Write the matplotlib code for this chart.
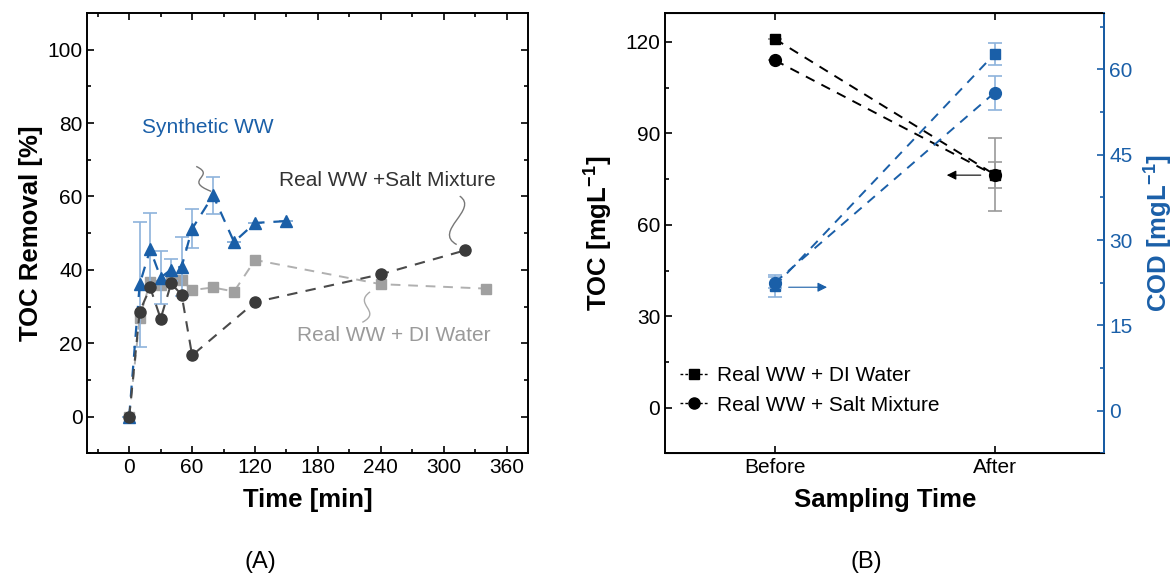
import matplotlib
matplotlib.use("Agg")
import matplotlib.pyplot as plt
from matplotlib.path import Path
from matplotlib.patches import PathPatch
from matplotlib.lines import Line2D

plt.rcParams['font.family'] = ['Liberation Sans', 'DejaVu Sans']
plt.rcParams['mathtext.fontset'] = 'custom'
plt.rcParams['mathtext.rm'] = 'Liberation Sans'
plt.rcParams['mathtext.bf'] = 'Liberation Sans:bold'

BLUE = '#1a5fa8'
LIGHT_BLUE = '#8db3dc'
GREY = '#a0a0a0'
DARK = '#3a3a3a'

# (A) TOC removal over time
t_syn = [0, 10, 20, 30, 40, 50, 60, 80, 100, 120, 150]
syn = [0, 36.1, 45.6, 37.9, 40.1, 40.9, 51.2, 60.3, 47.6, 52.8, 53.3]
syn_err = [0, 17, 10, 7.3, 3, 8, 5.3, 5, 0, 0, 0]

t_di = [0, 10, 20, 30, 40, 50, 60, 80, 100, 120, 240, 340]
di = [0, 27.0, 36.7, 36.0, 37.4, 37.2, 34.5, 35.2, 34.1, 42.7, 36.1, 34.9]

t_salt = [0, 10, 20, 30, 40, 50, 60, 120, 240, 320]
salt = [0, 28.6, 35.2, 26.7, 36.3, 33.2, 16.7, 31.2, 38.8, 45.3]

# (B) TOC and COD before/after
stages = ['Before', 'After']
toc_di = [121, 76.5]
toc_salt = [114, 76.3]
toc_di_err = [0, 12]
toc_salt_err = [0, 4.2]
cod_di = [21.9, 62.7]
cod_salt = [22.5, 55.9]
cod_di_err = [1.9, 2]
cod_salt_err = [1.0, 3]

fig = plt.figure(figsize=(11.76, 5.8), dpi=100)
ax1 = fig.add_axes([0.0742, 0.2184, 0.3745, 0.7591])
ax2 = fig.add_axes([0.5655, 0.2184, 0.3736, 0.7591])


def style_axis(ax):
    for s in ax.spines.values():
        s.set_linewidth(1.4)
    ax.tick_params(which='both', direction='in', labelsize=15, width=1.2)
    ax.tick_params(which='major', length=5)
    ax.tick_params(which='minor', length=3)


# ---- panel A ----
style_axis(ax1)
ax1.plot(t_di, di, ls=(0, (5, 4)), color='#b0b0b0', lw=1.4, marker='s',
         ms=6.5, mfc=GREY, mec=GREY, zorder=2)
ax1.errorbar(t_syn, syn, yerr=syn_err, ls=(0, (5, 4)), color=BLUE, lw=1.6,
             marker='^', ms=9, ecolor=LIGHT_BLUE, elinewidth=1.2, capsize=5,
             capthick=1.2, zorder=3)
ax1.plot(t_salt, salt, ls=(0, (5, 4)), color='#4a4a4a', lw=1.5, marker='o',
         ms=8, mfc=DARK, mec=DARK, zorder=4)

ax1.set_xlim(-40, 380)
ax1.set_ylim(-10, 110)
ax1.set_xticks(range(0, 361, 60))
ax1.set_xticks(range(-30, 380, 30), minor=True)
ax1.set_yticks(range(0, 101, 20))
ax1.set_yticks(range(-10, 110, 10), minor=True)
ax1.tick_params(which='both', top=True, right=True)
ax1.set_xlabel('Time [min]', fontsize=18.5, fontweight='bold', labelpad=8)
ax1.set_ylabel('TOC Removal [%]', fontsize=18.5, fontweight='bold', labelpad=3)

ax1.text(12, 78.8, 'Synthetic WW', color=BLUE, fontsize=15, va='center')
ax1.text(143, 64.4, 'Real WW +Salt Mixture', color='#333333', fontsize=15,
         va='center')
ax1.text(160, 22.2, 'Real WW + DI Water', color='#9a9a9a', fontsize=15,
         va='center')


def squiggle(ax, p0, p1, p2, p3, color):
    path = Path([p0, p1, p2, p3],
                [Path.MOVETO, Path.CURVE4, Path.CURVE4, Path.CURVE4])
    ax.add_patch(PathPatch(path, fc='none', ec=color, lw=1.0, zorder=5))


squiggle(ax1, (63.9, 68.2), (84, 65.5), (50, 64.5), (78.2, 61.4), '#777777')
squiggle(ax1, (315.2, 60.1), (334, 56.5), (289, 50.5), (312.3, 46.9), '#777777')
squiggle(ax1, (229.7, 34.0), (213, 30.6), (242, 28.7), (222.3, 25.7), '#aaaaaa')

fig.text(0.221, 0.02, '(A)', fontsize=17, ha='center')

# ---- panel B ----
style_axis(ax2)
x = [0, 1]
ax2.errorbar(x, toc_di, yerr=toc_di_err, ls=(0, (5, 4)), color='black',
             lw=1.4, marker='s', ms=7.5, ecolor='#999999', elinewidth=1.2,
             capsize=5, capthick=1.2, zorder=3)
ax2.errorbar(x, toc_salt, yerr=toc_salt_err, ls=(0, (5, 4)), color='black',
             lw=1.4, marker='o', ms=8.5, ecolor='#999999', elinewidth=1.2,
             capsize=5, capthick=1.2, zorder=4)
ax2.set_xlim(-0.5, 1.5)
ax2.set_ylim(-13, 129.5)
ax2.set_xticks(x)
ax2.set_xticklabels(stages)
ax2.set_yticks(range(0, 121, 30))
ax2.set_yticks(range(-15, 130, 15), minor=True)
ax2.tick_params(which='both', top=True, right=False)
ax2.set_xlabel('Sampling Time', fontsize=18.5, fontweight='bold', labelpad=8)
ax2.set_ylabel(r'TOC [mgL$^{\mathbf{-1}}$]', fontsize=18.5, fontweight='bold',
               labelpad=8)
ax2.annotate('', xy=(0.77, 76.3), xytext=(0.95, 76.3),
             arrowprops=dict(arrowstyle='-|>', color='black', lw=0.8,
                             mutation_scale=14))

# legend handles without the error bars
handles = [
    Line2D([], [], color='black', ls=(0, (2, 1.5)), lw=1.0, marker='s', ms=7),
    Line2D([], [], color='black', ls=(0, (2, 1.5)), lw=1.0, marker='o', ms=8),
]
ax2.legend(handles, ['Real WW + DI Water', 'Real WW + Salt Mixture'],
           loc='lower left', bbox_to_anchor=(0.0, 0.055), frameon=False,
           fontsize=15, handlelength=1.4, handletextpad=0.4, labelspacing=0.5,
           borderaxespad=0.3)

ax3 = ax2.twinx()
ax3.errorbar(x, cod_di, yerr=cod_di_err, ls=(0, (5, 4)), color=BLUE, lw=1.4,
             marker='s', ms=7.5, ecolor=LIGHT_BLUE, elinewidth=1.2, capsize=5,
             capthick=1.2, zorder=3)
ax3.errorbar(x, cod_salt, yerr=cod_salt_err, ls=(0, (5, 4)), color=BLUE,
             lw=1.4, marker='o', ms=8.5, ecolor=LIGHT_BLUE, elinewidth=1.2,
             capsize=5, capthick=1.2, zorder=4)
ax3.set_ylim(-7.1, 69.9)
ax3.set_yticks(range(0, 61, 15))
ax3.set_yticks([-7.5 + 7.5 * i for i in range(11)], minor=True)
ax3.spines['right'].set_color(BLUE)
ax3.spines['right'].set_linewidth(1.4)
ax3.spines['left'].set_visible(False)
ax3.tick_params(axis='y', which='both', direction='in', colors=BLUE,
                labelsize=15, width=1.2)
ax3.tick_params(axis='y', which='major', length=5)
ax3.tick_params(axis='y', which='minor', length=3)
ax3.set_ylabel(r'COD [mgL$^{\mathbf{-1}}$]', fontsize=18.5, fontweight='bold',
               color=BLUE, labelpad=6)
ax3.annotate('', xy=(0.25, 21.7), xytext=(0.05, 21.7),
             arrowprops=dict(arrowstyle='-|>', color=BLUE, lw=0.8,
                             mutation_scale=14))

fig.text(0.737, 0.02, '(B)', fontsize=17, ha='center')

fig.savefig('out.png', dpi=100)
